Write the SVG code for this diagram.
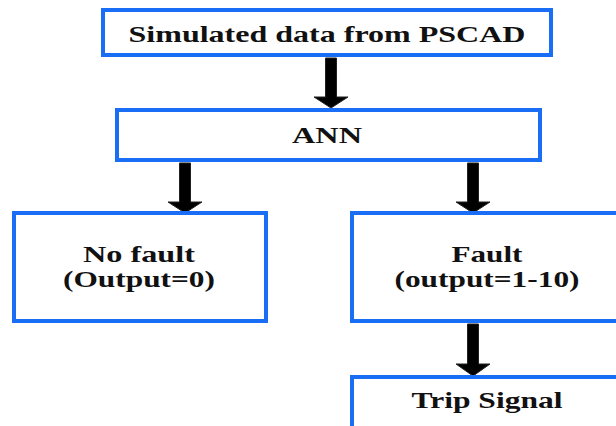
<svg xmlns="http://www.w3.org/2000/svg" width="616" height="426" viewBox="0 0 616 426">
<style>
.box{fill:#fff;stroke:#1a6ef5;stroke-width:4}
.t{font-family:'Liberation Serif','DejaVu Serif',serif;font-weight:700;font-size:23px;fill:#111;text-anchor:middle}
.arr{fill:#000;stroke:#222;stroke-width:1}
</style>
<rect width="616" height="426" fill="#fff"/>
<g id="connectors">
<path class="arr" d="M325.5,58 H336.5 V97 H348 L331,108 L314,97 H325.5 Z"/>
<path class="arr" d="M179.5,163 H190.5 V202 H202 L185,213 L168,202 H179.5 Z"/>
<path class="arr" d="M467.5,163 H478.5 V202 H490 L473,213 L456,202 H467.5 Z"/>
<path class="arr" d="M467.5,324 H478.5 V364 H490 L473,376 L456,364 H467.5 Z"/>
</g>
<g id="n1">
<rect class="box" x="103" y="10" width="448" height="45"/>
<text class="t" x="327" y="42" textLength="397" lengthAdjust="spacingAndGlyphs">Simulated data from PSCAD</text>
</g>
<g id="n2">
<rect class="box" x="117" y="110" width="423" height="50"/>
<text class="t" x="327" y="143" textLength="70" lengthAdjust="spacingAndGlyphs">ANN</text>
</g>
<g id="n3">
<rect class="box" x="14" y="213" width="252" height="108"/>
<text class="t" x="139" y="262" textLength="112" lengthAdjust="spacingAndGlyphs">No fault</text>
<text class="t" x="139" y="287" textLength="152" lengthAdjust="spacingAndGlyphs">(Output=0)</text>
</g>
<g id="n4">
<rect class="box" x="352" y="213" width="280" height="108"/>
<text class="t" x="487" y="262" textLength="71" lengthAdjust="spacingAndGlyphs">Fault</text>
<text class="t" x="487" y="287" textLength="185" lengthAdjust="spacingAndGlyphs">(output=1-10)</text>
</g>
<g id="n5">
<rect class="box" x="352" y="377" width="280" height="60"/>
<text class="t" x="487" y="408" textLength="151" lengthAdjust="spacingAndGlyphs">Trip Signal</text>
</g>
</svg>
